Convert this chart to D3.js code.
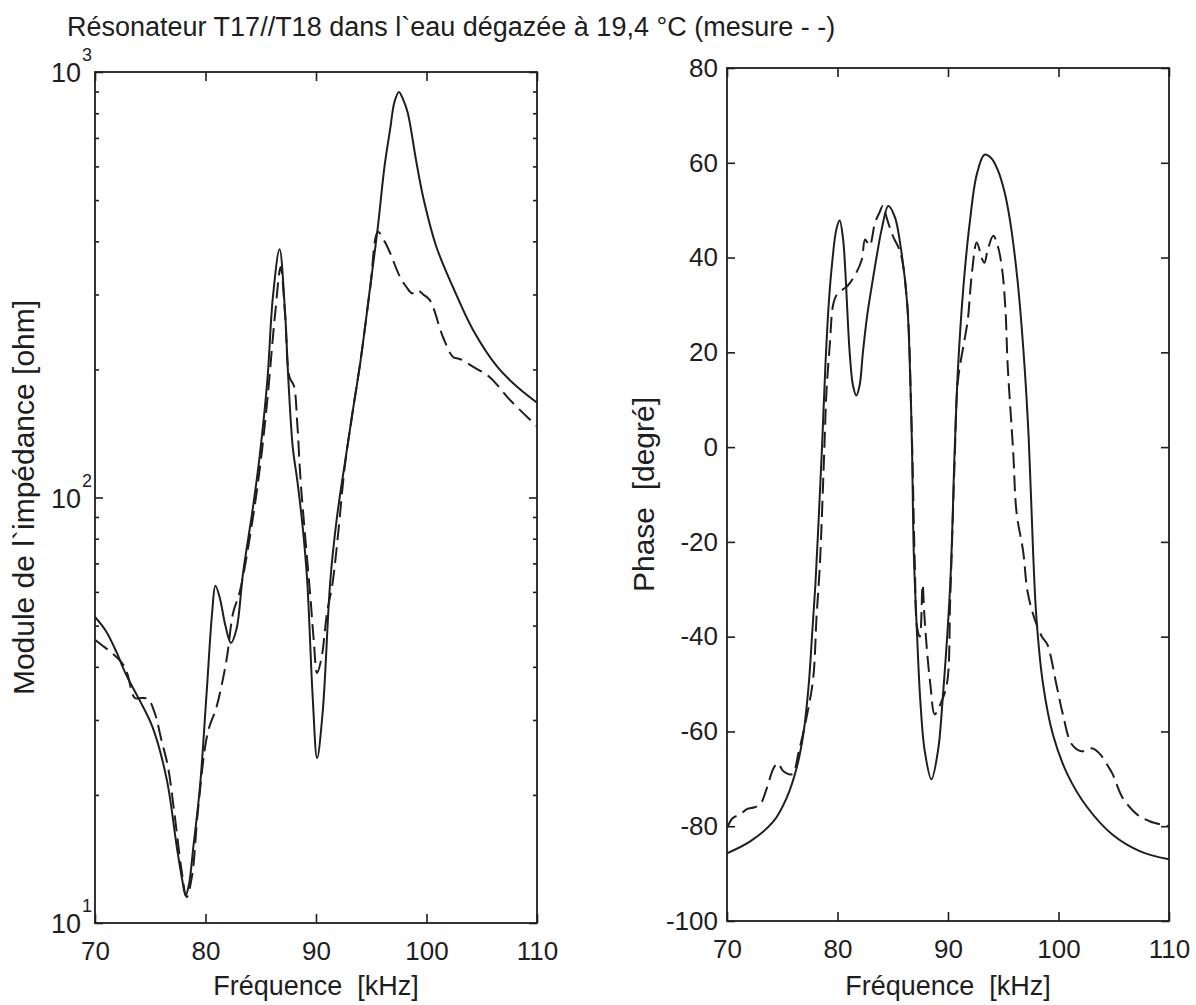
<!DOCTYPE html>
<html>
<head>
<meta charset="utf-8">
<script src="https://cdn.jsdelivr.net/npm/d3@7"></script>
<style>
body { margin: 0; background: #fff; }
text { font-family: "Liberation Sans", Arial, sans-serif; fill: #1e1e1e; white-space: pre; }
</style>
</head>
<body>
<svg width="1196" height="1005"></svg>
<script>
var titre = "Résonateur T17//T18 dans l`eau dégazée à 19,4 °C (mesure - -)";
var freqTicks = [70, 80, 90, 100, 110];
var moduleTicks = [10, 100, 1000];
var moduleExp = ["1", "2", "3"];
var phaseTicks = [-100, -80, -60, -40, -20, 0, 20, 40, 60, 80];

// module, modele (trait plein)
var fModele = [70, 71, 72, 72.5, 73, 73.9, 75.2, 76.5, 77.4, 77.9, 78.2, 78.5, 78.9, 79.5, 80.1, 80.6, 80.9, 81.3, 81.8, 82.3, 82.8, 83.4, 84.3, 84.9, 85.6, 86.1, 86.7, 87.2, 87.5, 87.9, 88.3, 88.8, 89.2, 89.7, 90.1, 90.6, 91.3, 91.9, 92.6, 93.3, 94.0, 94.9, 95.6, 96.2, 96.7, 97.1, 97.5, 97.9, 98.3, 99.1, 99.7, 100.9, 102.4, 104.2, 106.4, 108.2, 110];
var zModele = [52.4, 48.5, 43, 40, 37.5, 33.9, 28.9, 21.7, 15.1, 12.6, 11.6, 12.3, 15.1, 20.9, 34.7, 53.6, 62, 58, 50, 45.5, 49, 66.5, 95, 125, 189, 296, 383, 272, 189, 131, 110, 85, 64, 34, 24.4, 31.2, 64, 90, 120, 158, 207, 312, 433, 600, 731, 850, 898, 860, 802, 611, 508, 388, 312, 248, 203, 182, 167];

// module, mesure (tirets)
var fMesure = [70, 70.6, 71.4, 72.4, 72.9, 73.6, 74.2, 74.8, 75.4, 76.0, 76.6, 77.2, 77.8, 78.3, 78.8, 79.3, 80.2, 81.0, 81.9, 82.5, 83.1, 84.3, 85.0, 85.6, 86.3, 86.8, 87.2, 87.6, 88.0, 88.3, 88.6, 88.9, 89.5, 89.8, 90.1, 90.5, 91.0, 91.5, 92.0, 92.6, 93.3, 94.0, 94.9, 95.6, 96.2, 96.7, 97.6, 98.2, 98.7, 99.2, 99.7, 100.3, 101.5, 102.4, 102.9, 103.3, 104.2, 105.7, 107.6, 110];
var zMesure = [46.3, 45, 43.4, 41, 38.7, 33.8, 33.8, 33.6, 31.2, 27, 23.3, 18, 13.5, 11.5, 13, 18.2, 28, 32.2, 41.5, 53.6, 60, 90, 122, 170, 270, 348, 270, 192, 183, 150, 110, 88, 58, 46, 38.7, 42, 53.6, 63, 82, 118, 158, 207, 310, 421, 400, 376, 330, 312, 302, 307, 300, 291, 238, 214, 212, 210, 203, 192, 169, 147];

// phase, modele
var fPhModele = [70, 72.1, 74.2, 75.4, 76.3, 76.9, 77.4, 77.7, 78.0, 78.3, 78.6, 78.9, 79.2, 79.5, 79.9, 80.2, 80.5, 80.7, 81.1, 81.4, 81.7, 82.0, 82.3, 82.7, 83.2, 83.6, 84.0, 84.6, 85.2, 85.7, 86.3, 86.6, 86.75, 86.9, 87.2, 87.5, 87.9, 88.5, 89.1, 89.5, 90.2, 90.6, 90.9, 91.4, 92.0, 92.6, 93.3, 93.9, 94.5, 95.1, 95.6, 96.3, 96.9, 97.3, 97.7, 98.0, 98.6, 99.5, 100.8, 102.6, 104.9, 107.4, 110];
var phModele = [-85.7, -83.2, -79, -74, -67.7, -60.7, -50, -39.6, -29, -15, 0, 17, 30, 38.5, 46, 47.8, 44, 37.5, 20, 13, 10.9, 13, 20, 28, 35.4, 41, 46, 50.9, 48.5, 42.5, 30.5, 13, -1, -22, -39.6, -53.7, -64.2, -70.1, -64, -53.7, -29, -1, 16.4, 34, 48, 57.5, 61.7, 61, 58.5, 54, 48, 35, 18, 2, -22, -36, -50, -60.7, -69, -76, -81.8, -85.3, -87];

// phase, mesure
var fPhMesure = [70, 70.5, 71.2, 71.8, 72.5, 73.0, 73.6, 74.2, 74.6, 75.1, 75.9, 76.5, 77.2, 77.8, 78.1, 78.4, 78.8, 79.0, 79.3, 79.6, 79.9, 80.5, 80.9, 81.7, 82.2, 82.5, 82.9, 83.4, 83.8, 84.1, 84.5, 85.0, 85.7, 86.3, 86.7, 87.0, 87.2, 87.45, 87.7, 87.85, 88.1, 88.4, 88.8, 89.3, 89.9, 90.2, 90.6, 90.9, 91.5, 91.8, 92.0, 92.2, 92.6, 93.1, 93.3, 93.6, 94.1, 94.5, 94.9, 95.2, 95.4, 95.9, 96.2, 96.8, 97.2, 97.8, 98.5, 99.0, 99.8, 100.4, 101.2, 102.1, 102.6, 103.1, 103.8, 104.5, 104.9, 105.8, 107.1, 108.3, 110];
var phMesure = [-80.4, -78.3, -77.5, -76.4, -76, -75.4, -72, -67.8, -66.7, -68.4, -69, -64.2, -57, -48.8, -36, -25, -1, 11.6, 21.5, 30, 32, 33.3, 34, 36.8, 39.6, 43.8, 42.5, 47.4, 49.5, 50.9, 48, 44.6, 41, 30.5, 5, -25, -38, -40, -29, -35, -43, -50, -56.4, -54.3, -50, -32, -3, 14, 22.7, 27, 32.6, 37.5, 43.2, 39.6, 38.9, 41.7, 44.6, 42.5, 37.5, 29, 17.3, -1, -13.7, -22, -30.5, -36, -40, -41.7, -50, -56.4, -62.7, -64.2, -63.8, -63.6, -64.9, -67.4, -69, -74, -77.5, -79, -80];

var svg = d3.select("svg");
var ink = "#1e1e1e";

function paires(fs, vs) {
  return fs.map(function(f, i) { return [f, vs[i]]; });
}

// positions des deux cadres
var G = { x0: 95, x1: 537, y0: 72, y1: 923 };
var D = { x0: 727, x1: 1169, y0: 68, y1: 921 };

var xG = d3.scaleLinear().domain([70, 110]).range([G.x0, G.x1]);
var yG = d3.scaleLog().domain([10, 1000]).range([G.y1, G.y0]);
var xD = d3.scaleLinear().domain([70, 110]).range([D.x0, D.x1]);
var yD = d3.scaleLinear().domain([-100, 80]).range([D.y1, D.y0]);

svg.append("text")
  .attr("x", 67).attr("y", 36)
  .style("font-size", "27px")
  .text(titre);

function cadre(c, id) {
  svg.append("clipPath").attr("id", id)
    .append("rect").attr("x", c.x0).attr("y", c.y0)
    .attr("width", c.x1 - c.x0).attr("height", c.y1 - c.y0);
}
cadre(G, "clipG");
cadre(D, "clipD");

function stylerAxe(g) {
  g.select(".domain").remove();
  g.selectAll("line").attr("stroke", ink).attr("stroke-width", 1.6);
  g.selectAll("text").style("font-size", "26px").attr("fill", ink)
    .style("font-family", "'Liberation Sans', Arial, sans-serif");
}
var simple = function(d) { return String(d); };

// ---- graphe de gauche : module ----
var minG = [];
[10, 100].forEach(function(d) {
  for (var k = 2; k <= 9; k++) minG.push(d * k);
});

svg.append("g").attr("transform", "translate(0," + G.y1 + ")")
  .call(d3.axisBottom(xG).tickValues(freqTicks).tickSize(-9).tickPadding(19).tickFormat(simple))
  .call(stylerAxe);
svg.append("g").attr("transform", "translate(0," + G.y0 + ")")
  .call(d3.axisTop(xG).tickValues(freqTicks).tickSize(-9).tickFormat(""))
  .call(stylerAxe);
svg.append("g").attr("transform", "translate(" + G.x0 + ",0)")
  .call(d3.axisLeft(yG).tickValues(moduleTicks).tickSize(-8).tickFormat(""))
  .call(stylerAxe);
svg.append("g").attr("transform", "translate(" + G.x0 + ",0)")
  .call(d3.axisLeft(yG).tickValues(minG).tickSize(-4).tickFormat(""))
  .call(stylerAxe);
svg.append("g").attr("transform", "translate(" + G.x1 + ",0)")
  .call(d3.axisRight(yG).tickValues(moduleTicks).tickSize(-8).tickFormat(""))
  .call(stylerAxe);
svg.append("g").attr("transform", "translate(" + G.x1 + ",0)")
  .call(d3.axisRight(yG).tickValues(minG).tickSize(-4).tickFormat(""))
  .call(stylerAxe);

var etiq = svg.append("g").selectAll("g").data(moduleTicks).enter().append("g");
etiq.append("text")
  .attr("x", G.x0 - 14).attr("y", function(d) { return yG(d) + 10; })
  .attr("text-anchor", "end").style("font-size", "27px")
  .text("10");
etiq.append("text")
  .attr("x", G.x0 - 13).attr("y", function(d) { return yG(d) - 11; })
  .style("font-size", "18px")
  .text(function(d, i) { return moduleExp[i]; });

svg.append("rect")
  .attr("x", G.x0).attr("y", G.y0)
  .attr("width", G.x1 - G.x0).attr("height", G.y1 - G.y0)
  .attr("fill", "none").attr("stroke", ink).attr("stroke-width", 1.8);

var ligneG = d3.line()
  .x(function(d) { return xG(d[0]); })
  .y(function(d) { return yG(d[1]); })
  .curve(d3.curveCatmullRom.alpha(0.5));

svg.append("path").datum(paires(fModele, zModele))
  .attr("clip-path", "url(#clipG)")
  .attr("d", ligneG).attr("fill", "none")
  .attr("stroke", ink).attr("stroke-width", 2);
svg.append("path").datum(paires(fMesure, zMesure))
  .attr("clip-path", "url(#clipG)")
  .attr("d", ligneG).attr("fill", "none")
  .attr("stroke", ink).attr("stroke-width", 2)
  .attr("stroke-dasharray", "16,7");

svg.append("text")
  .attr("x", (G.x0 + G.x1) / 2).attr("y", 995)
  .attr("text-anchor", "middle").style("font-size", "27px")
  .text("Fréquence  [kHz]");
svg.append("text")
  .attr("transform", "translate(34," + (G.y0 + G.y1) / 2 + ") rotate(-90)")
  .attr("text-anchor", "middle").style("font-size", "30px")
  .text("Module de l`impédance [ohm]");

// ---- graphe de droite : phase ----
svg.append("g").attr("transform", "translate(0," + D.y1 + ")")
  .call(d3.axisBottom(xD).tickValues(freqTicks).tickSize(-9).tickPadding(19).tickFormat(simple))
  .call(stylerAxe);
svg.append("g").attr("transform", "translate(0," + D.y0 + ")")
  .call(d3.axisTop(xD).tickValues(freqTicks).tickSize(-9).tickFormat(""))
  .call(stylerAxe);
svg.append("g").attr("transform", "translate(" + D.x0 + ",0)")
  .call(d3.axisLeft(yD).tickValues(phaseTicks).tickSize(-8).tickPadding(9).tickFormat(simple))
  .call(stylerAxe);
svg.append("g").attr("transform", "translate(" + D.x1 + ",0)")
  .call(d3.axisRight(yD).tickValues(phaseTicks).tickSize(-8).tickFormat(""))
  .call(stylerAxe);

svg.append("rect")
  .attr("x", D.x0).attr("y", D.y0)
  .attr("width", D.x1 - D.x0).attr("height", D.y1 - D.y0)
  .attr("fill", "none").attr("stroke", ink).attr("stroke-width", 1.8);

var ligneD = d3.line()
  .x(function(d) { return xD(d[0]); })
  .y(function(d) { return yD(d[1]); })
  .curve(d3.curveCatmullRom.alpha(0.5));

svg.append("path").datum(paires(fPhModele, phModele))
  .attr("clip-path", "url(#clipD)")
  .attr("d", ligneD).attr("fill", "none")
  .attr("stroke", ink).attr("stroke-width", 2);
svg.append("path").datum(paires(fPhMesure, phMesure))
  .attr("clip-path", "url(#clipD)")
  .attr("d", ligneD).attr("fill", "none")
  .attr("stroke", ink).attr("stroke-width", 2)
  .attr("stroke-dasharray", "16,7");

svg.append("text")
  .attr("x", (D.x0 + D.x1) / 2).attr("y", 995)
  .attr("text-anchor", "middle").style("font-size", "27px")
  .text("Fréquence  [kHz]");
svg.append("text")
  .attr("transform", "translate(654," + (D.y0 + D.y1) / 2 + ") rotate(-90)")
  .attr("text-anchor", "middle").style("font-size", "30px")
  .text("Phase  [degré]");
</script>
</body>
</html>
